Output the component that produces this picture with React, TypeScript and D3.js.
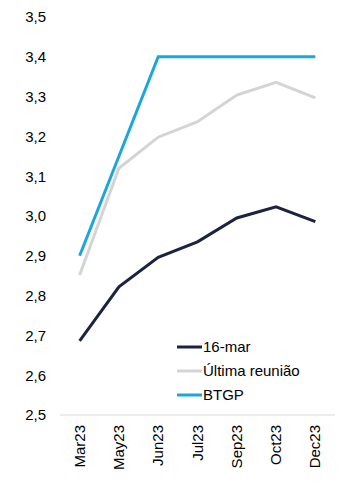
import React from "react";
import * as d3 from "d3";

const categories = ["Mar23", "May23", "Jun23", "Jul23", "Sep23", "Oct23", "Dec23"];
const serie16Mar = [2.686, 2.822, 2.896, 2.935, 2.995, 3.023, 2.986];
const serieUltima = [2.852, 3.12, 3.198, 3.237, 3.304, 3.336, 3.297];
const serieBTGP = [2.9, 3.15, 3.4, 3.4, 3.4, 3.4, 3.4];
const yTicks = [2.5, 2.6, 2.7, 2.8, 2.9, 3.0, 3.1, 3.2, 3.3, 3.4, 3.5];
const seriesNames = ["16-mar", "Última reunião", "BTGP"];
const seriesColors = ["#1c2340", "#d4d4d4", "#1ba6e0"];

export default function App() {
  const W = 356, H = 489;
  const x = d3.scalePoint<string>().domain(categories).range([60, 335]).padding(0.5);
  const y = d3.scaleLinear().domain([2.5, 3.5]).range([415, 17]);
  const line = d3
    .line<number>()
    .x((_, i) => x(categories[i]) as number)
    .y((d) => y(d));
  const all = [serie16Mar, serieUltima, serieBTGP];
  const fmt = (v: number) => v.toFixed(1).replace(".", ",");
  const font = "Liberation Sans, Arial, sans-serif";
  const fs = 15;
  return (
    <svg width={W} height={H} style={{ position: "absolute", left: 0, top: 0, background: "#fff" }} fontFamily={font}>
      <rect width={W} height={H} fill="#fff" />
      {yTicks.map((t) => (
        <text key={t} x={46} y={y(t)} dy="0.36em" textAnchor="end" fontSize={fs} fill="#000">
          {fmt(t)}
        </text>
      ))}
      <line x1={60} x2={335} y1={y(2.5)} y2={y(2.5)} stroke="#d9d9d9" strokeWidth={1} />
      {categories.map((c) => (
        <text
          key={c}
          transform={`translate(${(x(c) as number) + 5},${425}) rotate(-90)`}
          textAnchor="end"
          fontSize={fs}
          fill="#000"
        >
          {c}
        </text>
      ))}
      {[1, 0, 2].map((si) => (
        <path key={si} d={line(all[si]) || ""} fill="none" stroke={seriesColors[si]} strokeWidth={3} strokeLinejoin="miter" />
      ))}
      {seriesNames.map((n, i) => {
        const ly = 347 + i * 24;
        return (
          <g key={n}>
            <line x1={177} x2={202} y1={ly} y2={ly} stroke={seriesColors[i]} strokeWidth={3} />
            <text x={203} y={ly} dy="0.36em" fontSize={fs} fill="#000">
              {n}
            </text>
          </g>
        );
      })}
    </svg>
  );
}
